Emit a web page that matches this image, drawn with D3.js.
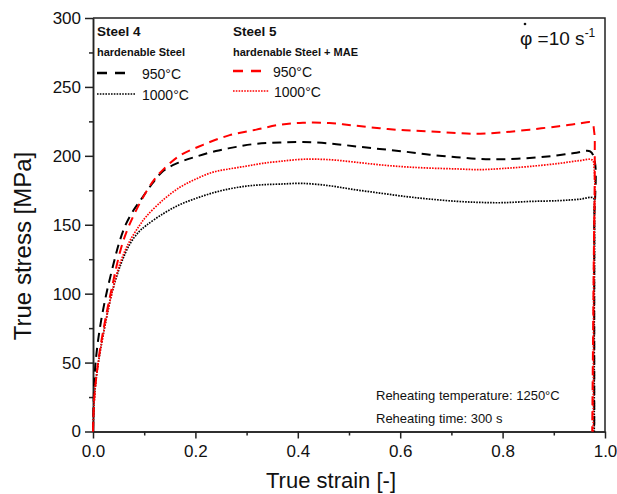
<!DOCTYPE html>
<html>
<head>
<meta charset="utf-8">
<script src="https://cdn.jsdelivr.net/npm/d3@7"></script>
<style>
  html, body { margin: 0; padding: 0; background: #fff; }
  svg { display: block; }
  text { font-family: Arial, "Liberation Sans", sans-serif; }
</style>
</head>
<body>
<svg id="chart" width="617" height="494"></svg>
<script>
// ---- data (strain [-], stress [MPa]) ----
const steel4_950 = [[0,0],[0.002,30],[0.005,50],[0.013,74],[0.025,98],[0.039,120],[0.052,138],[0.065,151],[0.08,161],[0.095,169],[0.11,177],[0.137,189],[0.17,195.5],[0.202,199.5],[0.24,203.5],[0.28,206.5],[0.32,208.8],[0.365,209.7],[0.41,210],[0.462,209],[0.51,207],[0.56,205],[0.61,203],[0.658,200.8],[0.71,199],[0.756,197.7],[0.8,197.5],[0.853,198.4],[0.9,200],[0.94,202],[0.971,203.2],[0.98,196],[0.979,150],[0.979,60],[0.979,0]];
const steel4_1000 = [[0,0],[0.002,20],[0.006,38],[0.013,56],[0.025,80],[0.038,102],[0.055,122],[0.072,136],[0.09,145],[0.104,149.5],[0.137,158],[0.169,164.5],[0.2,169],[0.233,173],[0.266,176],[0.299,178],[0.33,179],[0.365,179.5],[0.41,180],[0.462,178.3],[0.51,175.5],[0.56,173],[0.61,170.5],[0.658,168.6],[0.71,167],[0.756,166.2],[0.8,166],[0.853,166.9],[0.91,167.5],[0.95,168.5],[0.977,169.4],[0.979,160],[0.979,80],[0.979,0]];
const steel5_950 = [[0,0],[0.002,22],[0.006,38],[0.013,58],[0.026,85],[0.039,108],[0.046,120],[0.058,137],[0.07,149],[0.085,161],[0.104,174],[0.12,183],[0.137,190],[0.169,200],[0.215,208],[0.267,215],[0.319,219],[0.365,222.6],[0.41,224],[0.462,223.8],[0.51,222],[0.56,220],[0.61,218.5],[0.658,217.7],[0.71,216.5],[0.756,216],[0.8,217],[0.853,219],[0.91,221.5],[0.95,223.5],[0.974,224],[0.979,217],[0.98,200],[0.978,120],[0.975,0]];
const steel5_1000 = [[0,0],[0.002,20],[0.006,38],[0.013,56],[0.025,80],[0.038,102],[0.052,121],[0.07,137],[0.09,149],[0.104,156],[0.137,168],[0.169,177],[0.2,183],[0.233,188],[0.266,190.5],[0.299,192.5],[0.33,194.5],[0.365,196],[0.41,197.5],[0.462,197.2],[0.51,195.5],[0.56,193.5],[0.61,192],[0.658,191.1],[0.71,190.5],[0.756,190],[0.8,190.8],[0.853,192.3],[0.91,194.5],[0.95,196.5],[0.975,197],[0.979,190],[0.978,120],[0.977,0]];

const xTicks = [0, 0.2, 0.4, 0.6, 0.8, 1.0];
const xMinorTicks = [0.1, 0.3, 0.5, 0.7, 0.9];
const yTicks = [0, 50, 100, 150, 200, 250, 300];
const yMinorTicks = [25, 75, 125, 175, 225, 275];

const seriesNames = ["950°C", "1000°C", "950°C", "1000°C"];
const groupTitles = ["Steel 4", "Steel 5"];
const groupSubtitles = ["hardenable Steel", "hardenable Steel + MAE"];
const notes = ["Reheating temperature: 1250°C", "Reheating time: 300 s"];

// ---- layout ----
const svg = d3.select("#chart");
const m = {left: 93, right: 605, top: 18, bottom: 431.5};
const x = d3.scaleLinear().domain([0, 1]).range([m.left, m.right]);
const y = d3.scaleLinear().domain([0, 300]).range([m.bottom, m.top]);

// frame (top and right)
svg.append("path")
  .attr("d", `M${m.left},${m.top}H${m.right}V${m.bottom}`)
  .attr("fill", "none").attr("stroke", "#222").attr("stroke-width", 1.5);

// axes
const xAxis = svg.append("g").attr("transform", `translate(0,${m.bottom})`)
  .call(d3.axisBottom(x).tickValues(xTicks).tickFormat(d3.format(".1f")).tickSize(7).tickSizeOuter(0).tickPadding(6));
const xMinor = svg.append("g").attr("transform", `translate(0,${m.bottom})`)
  .call(d3.axisBottom(x).tickValues(xMinorTicks).tickFormat("").tickSize(4).tickSizeOuter(0));
const yAxis = svg.append("g").attr("transform", `translate(${m.left},0)`)
  .call(d3.axisLeft(y).tickValues(yTicks).tickSize(8).tickSizeOuter(0).tickPadding(4));
const yMinor = svg.append("g").attr("transform", `translate(${m.left},0)`)
  .call(d3.axisLeft(y).tickValues(yMinorTicks).tickFormat("").tickSize(4).tickSizeOuter(0));

[xAxis, xMinor, yAxis, yMinor].forEach(g => {
  g.select(".domain").attr("stroke", "#222").attr("stroke-width", 1.5);
  g.selectAll(".tick line").attr("stroke", "#222").attr("stroke-width", 1.5);
  g.selectAll(".tick text").attr("font-size", 17).attr("fill", "#111")
    .attr("font-family", "Arial, 'Liberation Sans', sans-serif");
});

// axis titles
svg.append("text").attr("x", 331).attr("y", 488).attr("text-anchor", "middle")
  .attr("font-size", 22).attr("fill", "#111").text("True strain [-]");
svg.append("text").attr("transform", "translate(31,246) rotate(-90)").attr("text-anchor", "middle")
  .attr("font-size", 24).attr("fill", "#111").text("True stress [MPa]");

// curves
const line = d3.line().x(d => x(d[0])).y(d => y(d[1])).curve(d3.curveCatmullRom.alpha(0.5));
const styles = [
  {data: steel4_950, color: "#000", dash: "9,6", w: 2},
  {data: steel4_1000, color: "#000", dash: "1.6,1.2", w: 1.7},
  {data: steel5_950, color: "#ff0000", dash: "9,6", w: 2},
  {data: steel5_1000, color: "#ff0000", dash: "1.6,1.2", w: 1.7}
];
styles.forEach(s => {
  svg.append("path").datum(s.data).attr("d", line)
    .attr("fill", "none").attr("stroke", s.color).attr("stroke-width", s.w)
    .attr("stroke-dasharray", s.dash);
});

// legend
const legendCols = [{x: 97, titleIdx: 0, items: [0, 1]}, {x: 233, titleIdx: 1, items: [2, 3]}];
legendCols.forEach((c, ci) => {
  svg.append("text").attr("x", c.x).attr("y", 36).attr("font-size", 13.5).attr("font-weight", "bold")
    .attr("fill", "#111").text(groupTitles[c.titleIdx]);
  svg.append("text").attr("x", c.x).attr("y", 56).attr("font-size", 11).attr("font-weight", "bold")
    .attr("fill", "#111").text(groupSubtitles[c.titleIdx]);
  c.items.forEach((si, k) => {
    const ly = ci === 0 ? (k === 0 ? 73 : 94) : (k === 0 ? 71 : 91);
    const s = styles[si];
    const len = k === 0 ? 30 : (ci === 0 ? 38 : 36);
    svg.append("line").attr("x1", c.x).attr("x2", c.x + len).attr("y1", ly).attr("y2", ly)
      .attr("stroke", s.color).attr("stroke-width", s.w + (k === 0 ? 0.6 : 0))
      .attr("stroke-dasharray", k === 0 ? "10,8" : s.dash);
    svg.append("text").attr("x", ci === 0 ? c.x + 45 : c.x + (k === 0 ? 40 : 41))
      .attr("y", ly + 6).attr("font-size", 14).attr("fill", "#111").text(seriesNames[si]);
  });
});

// strain-rate annotation
const ann = svg.append("text").attr("x", 520).attr("y", 45)
  .attr("font-family", "'Liberation Serif', 'Times New Roman', serif").attr("font-size", 19).attr("fill", "#111");
ann.append("tspan").text("φ");
ann.append("tspan").text(" =10 s");
ann.append("tspan").attr("dy", -8).attr("font-size", 12).text("-1");
svg.append("circle").attr("cx", 525).attr("cy", 24).attr("r", 1.3).attr("fill", "#111");

// notes
notes.forEach((t, i) => {
  svg.append("text").attr("x", 376).attr("y", 400 + i * 23).attr("font-size", 13)
    .attr("fill", "#111").text(t);
});
</script>
</body>
</html>
